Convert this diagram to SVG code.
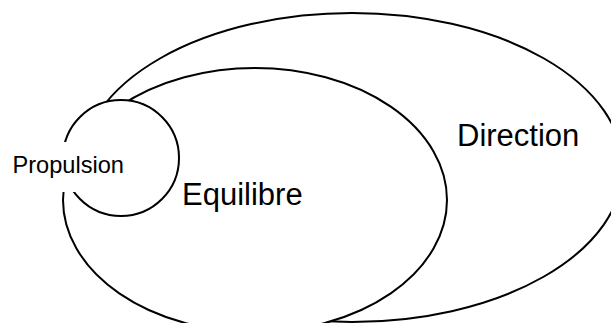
<svg xmlns="http://www.w3.org/2000/svg" width="611" height="323" viewBox="0 0 611 323">
  <style>
    .shape { fill: #ffffff; stroke: #000000; stroke-width: 2; }
    .label { font-family: "Liberation Sans", Arial, sans-serif; fill: #000000; }
    .big { font-size: 31px; }
    .small { font-size: 23.6px; }
  </style>
  <rect x="0" y="0" width="611" height="323" fill="#ffffff"/>
  <g id="direction">
    <ellipse class="shape" cx="352" cy="167.5" rx="271" ry="154.5"/>
    <text class="label big" x="457" y="146">Direction</text>
  </g>
  <g id="equilibre">
    <ellipse class="shape" cx="255" cy="200" rx="192" ry="132"/>
    <text class="label big" x="182" y="205">Equilibre</text>
  </g>
  <g id="propulsion">
    <circle class="shape" cx="121" cy="158" r="58"/>
    <rect x="8" y="142" width="124" height="50" fill="#ffffff"/>
    <text class="label small" x="12.5" y="173">Propulsion</text>
  </g>
</svg>
